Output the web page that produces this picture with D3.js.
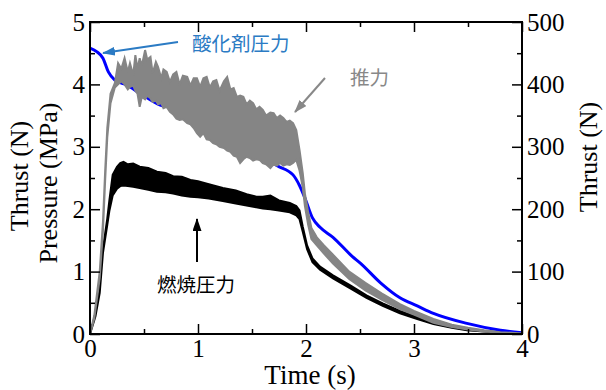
<!DOCTYPE html>
<html>
<head>
<meta charset="utf-8">
<script src="https://cdn.jsdelivr.net/npm/d3@7"></script>
<style>
  body { margin: 0; background: #fff; }
  svg text { font-family: "Liberation Serif", "Times New Roman", serif; fill: #000; }
  svg text.jp { font-family: "Noto Sans CJK JP", sans-serif; }
</style>
</head>
<body>
<svg id="chart" width="606" height="390"></svg>
<script>
// oxidizer pressure (MPa), smooth
var oxTime = [0, 0.065, 0.12, 0.17, 0.23, 0.34, 0.46, 0.65, 0.74, 1.0, 1.25, 1.55, 1.73, 1.88, 1.94, 1.99, 2.06, 2.13, 2.25, 2.43, 2.5, 2.69, 2.87, 3.03, 3.18, 3.49, 3.8, 4.0];
var oxPressure = [4.58, 4.52, 4.42, 4.2, 4.07, 3.99, 3.86, 3.67, 3.63, 3.4, 3.18, 2.92, 2.7, 2.55, 2.38, 2.18, 1.86, 1.71, 1.55, 1.24, 1.14, 0.82, 0.58, 0.45, 0.33, 0.17, 0.06, 0.02];

// thrust (N), noisy band: upper / lower envelope
var thrustTime = [0, 0.04, 0.09, 0.12, 0.14, 0.16, 0.19, 0.23, 0.26, 0.29, 0.32, 0.35, 0.37, 0.40, 0.42, 0.44, 0.46, 0.48, 0.51, 0.53, 0.56, 0.58, 0.61, 0.63, 0.66, 0.68, 0.71, 0.74, 0.77, 0.80, 0.83, 0.86, 0.9, 0.93, 0.96, 0.99, 1.02, 1.05, 1.08, 1.11, 1.14, 1.17, 1.2, 1.24, 1.27, 1.30, 1.33, 1.36, 1.39, 1.42, 1.45, 1.48, 1.51, 1.54, 1.57, 1.6, 1.63, 1.67, 1.70, 1.73, 1.76, 1.79, 1.82, 1.85, 1.88, 1.91, 1.94, 1.97, 1.99, 2.02, 2.05, 2.1, 2.16, 2.25, 2.4, 2.55, 2.7, 2.87, 3.0, 3.18, 3.35, 3.5, 3.65, 3.8, 4.0];
var thrustUpper = [0, 30, 100, 180, 260, 330, 385, 402, 434, 425, 442, 420, 434, 415, 447, 425, 442, 430, 455, 440, 444, 418, 436, 428, 410, 424, 420, 404, 416, 420, 400, 414, 412, 398, 410, 410, 396, 410, 412, 395, 405, 407, 390, 405, 412, 392, 394, 380, 382, 380, 368, 374, 370, 360, 364, 359, 350, 355, 354, 346, 350, 346, 340, 342, 338, 327, 295, 258, 225, 195, 170, 155, 143, 127, 100, 82, 65, 48, 37, 24, 15, 10, 6, 3, 1];
var thrustLower = [0, 25, 90, 165, 245, 315, 370, 395, 400, 405, 400, 392, 396, 398, 390, 385, 364, 380, 376, 382, 378, 372, 374, 368, 370, 362, 364, 356, 352, 345, 343, 344, 338, 336, 330, 322, 316, 322, 312, 311, 306, 304, 300, 298, 294, 292, 286, 284, 274, 280, 284, 282, 278, 280, 279, 274, 272, 266, 272, 270, 274, 270, 272, 271, 274, 279, 262, 235, 205, 175, 152, 142, 130, 113, 88, 70, 55, 40, 31, 18, 11, 7, 4, 2, 0];

// combustion pressure (MPa), noisy band
var combTime = [0, 0.05, 0.09, 0.12, 0.16, 0.18, 0.21, 0.25, 0.28, 0.31, 0.35, 0.4, 0.46, 0.54, 0.62, 0.7, 0.77, 0.85, 0.93, 1.0, 1.1, 1.23, 1.35, 1.45, 1.54, 1.6, 1.67, 1.75, 1.85, 1.91, 1.94, 1.97, 2.01, 2.06, 2.13, 2.25, 2.41, 2.56, 2.71, 2.87, 3.03, 3.18, 3.35, 3.49, 3.65, 3.8, 4.0];
var combUpper = [0, 0.32, 0.72, 1.37, 1.85, 2.15, 2.55, 2.68, 2.74, 2.76, 2.72, 2.73, 2.68, 2.66, 2.6, 2.58, 2.53, 2.52, 2.47, 2.45, 2.4, 2.34, 2.3, 2.24, 2.2, 2.2, 2.22, 2.14, 2.1, 2.05, 1.98, 1.72, 1.42, 1.21, 1.08, 0.94, 0.78, 0.62, 0.49, 0.37, 0.27, 0.19, 0.12, 0.08, 0.05, 0.03, 0.01];
var combLower = [0, 0.28, 0.66, 1.3, 1.75, 1.98, 2.22, 2.33, 2.37, 2.38, 2.37, 2.36, 2.34, 2.31, 2.28, 2.27, 2.25, 2.22, 2.2, 2.19, 2.17, 2.13, 2.09, 2.06, 2.03, 2.01, 2.0, 1.98, 1.95, 1.9, 1.84, 1.64, 1.36, 1.15, 1.03, 0.89, 0.73, 0.58, 0.45, 0.33, 0.24, 0.16, 0.1, 0.06, 0.04, 0.02, 0];

var timeTicks = [0, 1, 2, 3, 4];
var pressureTicks = [0, 1, 2, 3, 4, 5];
var thrustTicks = [0, 100, 200, 300, 400, 500];

var svg = d3.select("#chart");
var x = d3.scaleLinear().domain([0, 4]).range([90, 522]);
var y = d3.scaleLinear().domain([0, 5]).range([334, 22]);
var yR = d3.scaleLinear().domain([0, 500]).range([334, 22]);

var band = function(ts, up, lo, ys) {
  return ts.map(function(t, i) { return { t: t, hi: ys(up[i]), lo: ys(lo[i]) }; });
};
var area = d3.area().x(function(d) { return x(d.t); }).y0(function(d) { return d.lo; }).y1(function(d) { return d.hi; });

// combustion pressure
svg.append("path").datum(band(combTime, combUpper, combLower, y))
  .attr("d", area).attr("fill", "#000").attr("stroke", "#000").attr("stroke-width", 2);

// oxidizer pressure
svg.append("path").datum(oxTime.map(function(t, i) { return [x(t), y(oxPressure[i])]; }))
  .attr("d", d3.line().curve(d3.curveMonotoneX)).attr("fill", "none")
  .attr("stroke", "#0000ff").attr("stroke-width", 3);

// thrust
svg.append("path").datum(band(thrustTime, thrustUpper, thrustLower, yR))
  .attr("d", area).attr("fill", "#858585").attr("stroke", "#858585").attr("stroke-width", 2);

// axes, ticks inward
var styleAxis = function(g) {
  g.select(".domain").remove();
  g.selectAll(".tick line").attr("stroke", "#000").attr("stroke-width", 1.5);
  g.selectAll(".tick text").style("font-size", "25px").attr("fill", "#000");
};
var halves = function(a, b, s) { return d3.range(a, b + s / 10, s); };

svg.append("g").attr("transform", "translate(0,334)")
  .call(d3.axisBottom(x).tickValues(timeTicks).tickSize(-10).tickPadding(5).tickFormat(d3.format("d")))
  .call(styleAxis);
svg.append("g").attr("transform", "translate(0,334)")
  .call(d3.axisBottom(x).tickValues(halves(0.5, 3.5, 1)).tickSize(-5).tickFormat(""))
  .call(styleAxis);
svg.append("g").attr("transform", "translate(0,22)")
  .call(d3.axisTop(x).tickValues(timeTicks).tickSize(-10).tickFormat(""))
  .call(styleAxis);
svg.append("g").attr("transform", "translate(0,22)")
  .call(d3.axisTop(x).tickValues(halves(0.5, 3.5, 1)).tickSize(-5).tickFormat(""))
  .call(styleAxis);
svg.append("g").attr("transform", "translate(90,0)")
  .call(d3.axisLeft(y).tickValues(pressureTicks).tickSize(-10).tickPadding(5).tickFormat(d3.format("d")))
  .call(styleAxis);
svg.append("g").attr("transform", "translate(90,0)")
  .call(d3.axisLeft(y).tickValues(halves(0.5, 4.5, 1)).tickSize(-5).tickFormat(""))
  .call(styleAxis);
svg.append("g").attr("transform", "translate(522,0)")
  .call(d3.axisRight(yR).tickValues(thrustTicks).tickSize(-10).tickPadding(5).tickFormat(d3.format("d")))
  .call(styleAxis);
svg.append("g").attr("transform", "translate(522,0)")
  .call(d3.axisRight(yR).tickValues(halves(50, 450, 100)).tickSize(-5).tickFormat(""))
  .call(styleAxis);

svg.append("rect").attr("x", 90).attr("y", 22).attr("width", 432).attr("height", 312)
  .attr("fill", "none").attr("stroke", "#000").attr("stroke-width", 2);

// axis titles
svg.append("text").attr("x", 310).attr("y", 384).attr("text-anchor", "middle")
  .style("font-size", "27px").text("Time (s)");
svg.append("text").attr("transform", "translate(28,176) rotate(-90)").attr("text-anchor", "middle")
  .style("font-size", "26px").text("Thrust (N)");
svg.append("text").attr("transform", "translate(57,183) rotate(-90)").attr("text-anchor", "middle")
  .style("font-size", "26px").text("Pressure (MPa)");
svg.append("text").attr("transform", "translate(597,157) rotate(-90)").attr("text-anchor", "middle")
  .style("font-size", "26px").text("Thrust (N)");

// annotations
var notes = [
  { label: "酸化剤圧力", color: "#2b7bc4", tx: 192, ty: 51, x1: 178, y1: 42, x2: 103, y2: 53 },
  { label: "推力", color: "#888888", tx: 350, ty: 85, x1: 325, y1: 78, x2: 295, y2: 112 },
  { label: "燃焼圧力", color: "#000000", tx: 157, ty: 292, x1: 197, y1: 262, x2: 197, y2: 219 }
];
var defs = svg.append("defs");
notes.forEach(function(n, i) {
  defs.append("marker").attr("id", "head" + i).attr("markerUnits", "userSpaceOnUse")
    .attr("markerWidth", 13).attr("markerHeight", 9).attr("refX", 12).attr("refY", 4.5)
    .attr("orient", "auto")
    .append("path").attr("d", "M0,0L13,4.5L0,9z").attr("fill", n.color);
  svg.append("line").attr("x1", n.x1).attr("y1", n.y1).attr("x2", n.x2).attr("y2", n.y2)
    .attr("stroke", n.color).attr("stroke-width", 2).attr("marker-end", "url(#head" + i + ")");
  svg.append("text").attr("class", "jp").attr("x", n.tx).attr("y", n.ty)
    .style("font-size", "19.5px").style("fill", n.color).text(n.label);
});
</script>
</body>
</html>
